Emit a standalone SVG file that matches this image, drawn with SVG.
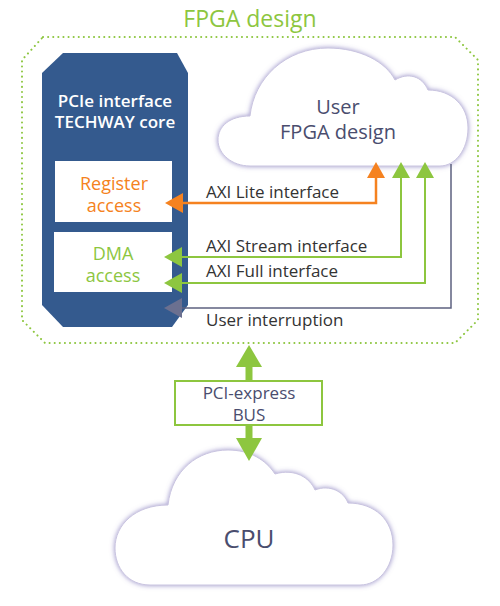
<svg xmlns="http://www.w3.org/2000/svg" width="500" height="606" viewBox="0 0 500 606">
<defs>
<style>
text{font-family:"Open Sans","Liberation Sans",sans-serif}
.lbl{font-size:17px;fill:#333333}
.cloud{fill:#ffffff;stroke:#c9c4e0;stroke-width:1;filter:url(#glow)}
.ctext{fill:#4a4d6e;text-anchor:middle}
.box{fill:#ffffff}
</style>
<filter id="glow" x="-10%" y="-10%" width="120%" height="125%">
<feGaussianBlur in="SourceAlpha" stdDeviation="2.5" result="b"/>
<feFlood flood-color="#7a6fb8" flood-opacity="0.75"/>
<feComposite in2="b" operator="in" result="s"/>
<feMerge><feMergeNode in="s"/><feMergeNode in="SourceGraphic"/></feMerge>
</filter>
</defs>
<rect width="500" height="606" fill="#ffffff"/>

<g id="fpga-frame">
<path d="M43,37 L455,37 L478,60 L478,320 L455,343 L45,343 L22,320 L22,60 Z" fill="none" stroke="#8dc63f" stroke-width="2" stroke-dasharray="0.1 5" stroke-linecap="round"/>
<text x="250" y="27" text-anchor="middle" font-size="23" fill="#8dc63f">FPGA design</text>
</g>

<g id="core">
<path d="M63,53 L177,53 L188,73 L188,305 L172,327 L63,327 L42,305 L42,73 Z" fill="#345a8e"/>
<text x="115" y="107" text-anchor="middle" font-size="17" font-weight="600" fill="#ffffff">PCIe interface</text>
<text x="115" y="128" text-anchor="middle" font-size="17" font-weight="600" fill="#ffffff">TECHWAY core</text>
</g>

<g id="register-access">
<rect class="box" x="55" y="161" width="117" height="61"/>
<text x="114" y="190" text-anchor="middle" font-size="18" fill="#f58220">Register</text>
<text x="114" y="212" text-anchor="middle" font-size="18" fill="#f58220">access</text>
</g>

<g id="dma-access">
<rect class="box" x="54" y="232" width="118" height="60"/>
<text x="113" y="260" text-anchor="middle" font-size="18" fill="#8dc63f">DMA</text>
<text x="113" y="282" text-anchor="middle" font-size="18" fill="#8dc63f">access</text>
</g>

<g id="user-fpga">
<path class="cloud" d="M250,166 C232,166 218,154 218,140 C218,126 230,116 250,116 C254,78 286,48 328,48 C360,48 386,62 395,80 C408,72 422,76 428,90 C452,90 468,106 468,128 C468,150 455,166 440,166 Z"/>
<text class="ctext" x="338" y="114" font-size="20">User</text>
<text class="ctext" x="338" y="139" font-size="20">FPGA design</text>
</g>

<g id="pcie-bus">
<rect x="175" y="381" width="147" height="44" fill="#ffffff" stroke="#8dc63f" stroke-width="2"/>
<text x="249" y="399" text-anchor="middle" font-size="17" fill="#4a4d6e">PCI-express</text>
<text x="249" y="421" text-anchor="middle" font-size="17" fill="#4a4d6e">BUS</text>
</g>

<g id="cpu">
<path class="cloud" d="M150,585 C128,585 115,568 115,548 C115,525 135,505 168,505 C172,470 198,450 228,450 C250,450 266,460 275,474 C295,468 310,478 315,490 C330,484 344,492 348,503 C375,503 393,520 393,545 C393,568 378,585 360,585 Z"/>
<text class="ctext" x="249" y="548" font-size="26">CPU</text>
</g>

<g id="connectors">
<polyline points="182,203 376,203 376,176" fill="none" stroke="#f58220" stroke-width="2.5"/>
<polygon points="165,203 183,193 183,213" fill="#f58220"/>
<polygon points="376,162 367,178 385,178" fill="#f58220"/>
<polyline points="181,257 401,257 401,176" fill="none" stroke="#8dc63f" stroke-width="2"/>
<polygon points="164,257 182,247 182,267" fill="#8dc63f"/>
<polygon points="401,162 392,178 410,178" fill="#8dc63f"/>
<polyline points="181,283 425,283 425,176" fill="none" stroke="#8dc63f" stroke-width="2"/>
<polygon points="164,283 182,273 182,293" fill="#8dc63f"/>
<polygon points="425,162 416,178 434,178" fill="#8dc63f"/>
<polyline points="181,308 451,308 451,164" fill="none" stroke="#5d6280" stroke-width="1.5"/>
<polygon points="164,308 182,298 182,318" fill="#6b7090"/>
<line x1="249" y1="365" x2="249" y2="381" stroke="#8dc63f" stroke-width="7"/>
<polygon points="249,345 236,367 262,367" fill="#8dc63f"/>
<line x1="249" y1="425" x2="249" y2="440" stroke="#8dc63f" stroke-width="7"/>
<polygon points="249,461 236,438 262,438" fill="#8dc63f"/>
</g>

<g id="labels">
<text class="lbl" x="206" y="198">AXI Lite interface</text>
<text class="lbl" x="206" y="252">AXI Stream interface</text>
<text class="lbl" x="206" y="277">AXI Full interface</text>
<text class="lbl" x="206" y="326">User interruption</text>
</g>
</svg>
